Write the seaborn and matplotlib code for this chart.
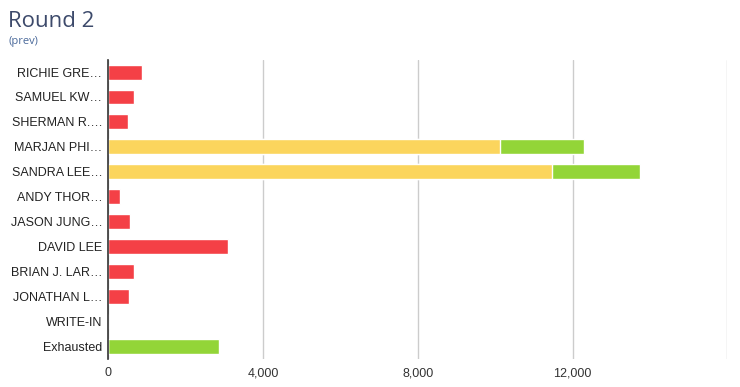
import pandas as pd
import numpy as np
import seaborn as sns
import matplotlib.pyplot as plt

# round 2 tallies
names = ["RICHIE GRE…", "SAMUEL KW…", "SHERMAN R.…", "MARJAN PHI…", "SANDRA LEE…",
         "ANDY THOR…", "JASON JUNG…", "DAVID LEE", "BRIAN J. LAR…", "JONATHAN L…",
         "WRITE-IN", "Exhausted"]
prev_votes = [870, 670, 515, 10130, 11475, 320, 560, 3090, 670, 535, 0, 0]
transferred = [0, 0, 0, 2170, 2270, 0, 0, 0, 0, 0, 0, 2855]
status = ["out", "out", "out", "in", "in", "out", "out", "out", "out", "out", "out", "out"]

RED = "#f44046"
YELLOW = "#fbd55d"
GREEN = "#93d538"

df = pd.DataFrame({"name": names, "prev": prev_votes, "gain": transferred, "status": status})
df["total"] = df["prev"] + df["gain"]

sns.set_style("white")
plt.rcParams["font.family"] = ["Liberation Sans", "DejaVu Sans"]

fig = plt.figure(figsize=(7.4, 3.87), dpi=100)
ax = fig.add_axes([0.146, 0.073, 0.837, 0.773])

# green = total after transfers, the prior votes drawn on top of it
sns.barplot(data=df, y="name", x="total", color=GREEN, orient="h", width=0.6,
            ax=ax, saturation=1)
sns.barplot(data=df, y="name", x="prev", hue="status", palette={"out": RED, "in": YELLOW},
            orient="h", width=0.6, dodge=False, ax=ax, saturation=1, legend=False,
            edgecolor="white", linewidth=1)

ax.set_xlim(0, 16000)
ax.set_xticks([0, 4000, 8000, 12000, 16000])
ax.set_xticklabels(["0", "4,000", "8,000", "12,000", ""])
ax.xaxis.grid(True, color="#cccccc", linewidth=1)
ax.set_axisbelow(True)
ax.set_xlabel("")
ax.set_ylabel("")
for side in ["top", "right", "bottom"]:
    ax.spines[side].set_visible(False)
ax.spines["left"].set_color("#333333")
ax.spines["left"].set_linewidth(1.2)
ax.tick_params(axis="both", length=0, labelsize=9, colors="#222222")
ax.tick_params(axis="x", pad=6, labelcolor="#333333")
ax.tick_params(axis="y", pad=4)

fig.text(0.011, 0.945, "Round 2", fontsize=16, color="#3d4a6b", va="center",
         family=["Open Sans", "DejaVu Sans"])
fig.text(0.011, 0.893, "(prev)", fontsize=8, color="#4b6a9b", va="center",
         family=["Open Sans", "DejaVu Sans"])

fig.savefig("out.png", dpi=100)
